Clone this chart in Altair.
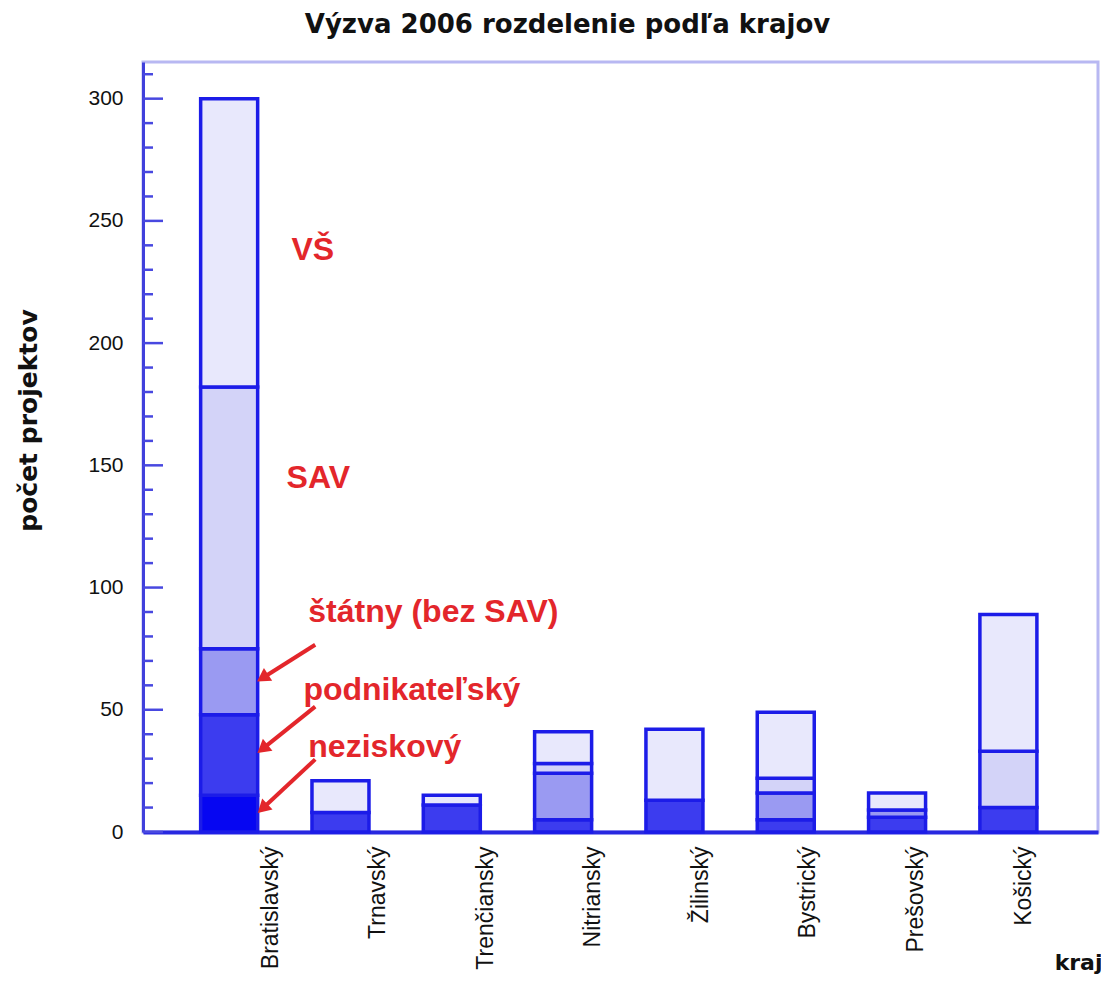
import json
import altair as alt
import pandas as pd

# ---------------- data ----------------
regions = ["Bratislavský", "Trnavský", "Trenčiansky", "Nitriansky",
           "Žilinský", "Bystrický", "Prešovský", "Košický"]
types = ["neziskový", "podnikateľský", "štátny (bez SAV)", "SAV", "VŠ"]
neziskovy = [15, 0, 0, 0, 0, 0, 0, 0]
podnikatelsky = [33, 8, 11, 5, 13, 5, 6, 10]
statny = [27, 0, 0, 19, 0, 11, 3, 0]
sav = [107, 0, 0, 4, 0, 6, 0, 23]
vs = [118, 13, 4, 13, 29, 27, 7, 56]

y_major = [0, 50, 100, 150, 200, 250, 300]
y_minor = [v for v in range(10, 320, 10) if v % 50 != 0]

# annotation texts (red) and their anchor points in data units
ann_text = ["VŠ", "SAV", "štátny (bez SAV)", "podnikateľský", "neziskový"]
ann_x = [0.56, 0.516, 0.711, 0.667, 0.711]
ann_y = [234, 140.6, 86, 54.2, 30.6]

# arrows (start -> end) in data units
arr_x1 = [0.773, 0.773, 0.773]
arr_y1 = [76.6, 51.3, 29.7]
arr_x2 = [0.30, 0.30, 0.30]
arr_y2 = [63.0, 34.0, 9.6]
arr_angle = [237, 231, 227]

fill_colors = ["#0606f2", "#3c3cef", "#9a9af2", "#d3d3f8", "#e8e8fc"]
stroke_blue = "#1c1ce8"
red = "#e3262b"

# ---------------- tables ----------------
series = [neziskovy, podnikatelsky, statny, sav, vs]
rows = []
for i, r in enumerate(regions):
    for k, (t, vals) in enumerate(zip(types, series)):
        if vals[i] > 0:
            rows.append({"kraj": r, "idx": i, "typ": t, "order": k, "value": vals[i]})
df = pd.DataFrame(rows)

ann_df = pd.DataFrame({"t": ann_text, "x": ann_x, "y": ann_y})
arr_df = pd.DataFrame({"x1": arr_x1, "y1": arr_y1, "x2": arr_x2, "y2": arr_y2, "a": arr_angle})
maj_df = pd.DataFrame({"v": y_major})
min_df = pd.DataFrame({"v": y_minor})
lab_df = pd.DataFrame({"idx": list(range(len(regions)))})

xscale = alt.Scale(domain=[-0.729, 7.76], nice=False, zero=False)
yscale = alt.Scale(domain=[0, 315], nice=False, zero=False)

bars = alt.Chart(df).transform_stack(
    stack="value", groupby=["kraj"], as_=["y0", "y1"], sort=[alt.SortField("order")]
).mark_bar(width=57, stroke=stroke_blue, strokeWidth=3.5).encode(
    x=alt.X("idx:Q", scale=xscale,
            axis=alt.Axis(labels=False, ticks=False, grid=False, title=None,
                          domainColor="#2828e0", domainWidth=4, orient="bottom")),
    y=alt.Y("y0:Q", scale=yscale,
            axis=alt.Axis(values=y_major, ticks=False, grid=False,
                          labelFontSize=21, labelPadding=20, labelColor="#111111",
                          labelFont="Liberation Sans",
                          domainColor="#4040dc", domainWidth=3,
                          title="počet projektov", titleFont="DejaVu Sans",
                          titleFontSize=25, titleFontWeight="bold", titleColor="#111111",
                          titleX=-115, titleY=358, titleBaseline="middle", titleAlign="center")),
    y2="y1:Q",
    fill=alt.Fill("typ:N", scale=alt.Scale(domain=types, range=fill_colors), legend=None),
)

major_ticks = alt.Chart(maj_df).mark_rule(color="#4848e0", strokeWidth=2.5).encode(
    y=alt.Y("v:Q", scale=yscale), x=alt.value(0), x2=alt.value(20)
)
minor_ticks = alt.Chart(min_df).mark_rule(color="#4848e0", strokeWidth=2.5).encode(
    y=alt.Y("v:Q", scale=yscale), x=alt.value(0), x2=alt.value(10)
)

ann = alt.Chart(ann_df).mark_text(
    align="left", baseline="alphabetic", font="Liberation Sans", fontWeight="bold",
    fontSize=32, color=red
).encode(x=alt.X("x:Q", scale=xscale), y=alt.Y("y:Q", scale=yscale), text="t:N")

arr_lines = alt.Chart(arr_df).mark_rule(color=red, strokeWidth=4).encode(
    x=alt.X("x1:Q", scale=xscale), y=alt.Y("y1:Q", scale=yscale), x2="x2:Q", y2="y2:Q"
)
arr_heads = alt.Chart(arr_df).mark_point(
    shape="triangle-up", filled=True, color=red, opacity=1, size=230
).encode(
    x=alt.X("x2:Q", scale=xscale), y=alt.Y("y2:Q", scale=yscale), angle=alt.Angle("a:Q", scale=None)
)

main = alt.layer(bars, major_ticks, minor_ticks, arr_lines, arr_heads, ann)

label_expr = json.dumps(regions, ensure_ascii=False) + "[datum.value]"
labels = alt.Chart(lab_df).mark_point(opacity=0).encode(
    x=alt.X("idx:Q", scale=alt.Scale(domain=[-1.181, 7.697], nice=False, zero=False),
            axis=alt.Axis(values=list(range(len(regions))), labelExpr=label_expr,
                          labelAngle=-90, labelAlign="right", labelBaseline="middle",
                          labelFont="Liberation Sans", labelFontSize=23, labelColor="#111111",
                          labelPadding=14, labelOverlap=False, labelBound=False,
                          domain=False, ticks=False, grid=False, orient="bottom",
                          title="kraj", titleFont="DejaVu Sans", titleFontSize=22,
                          titleFontWeight="bold", titleColor="#111111",
                          titleX=959, titleY=137, titleAlign="right",
                          titleBaseline="alphabetic")),
    y=alt.value(0),
)

chart = alt.layer(main, labels).resolve_scale(x="independent").properties(
    width=955, height=770,
    title=alt.TitleParams(
        "Výzva 2006 rozdelenie podľa krajov", font="DejaVu Sans", fontSize=26,
        fontWeight="bold", color="#111111", anchor="middle", frame="group",
        baseline="alphabetic", offset=0, dx=-53
    ),
    autosize=alt.AutoSizeParams(type="none"),
    padding={"left": 135, "top": 54, "right": 3, "bottom": 148},
    background="white",
).configure_view(stroke="#b8b8f2", strokeWidth=3)

chart.save("out.html", embed_options={"renderer": "svg", "actions": False})
